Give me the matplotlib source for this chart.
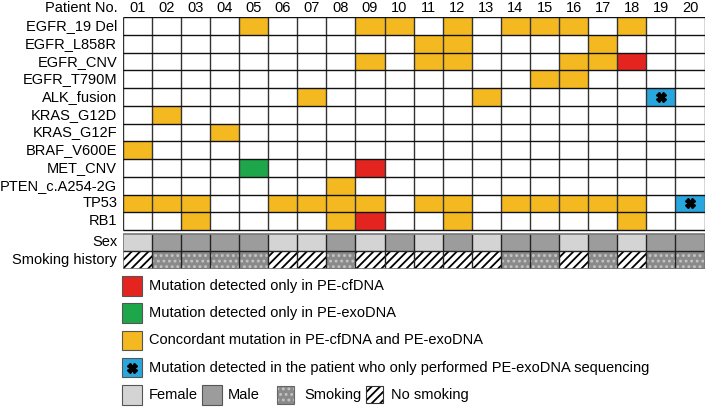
import matplotlib.pyplot as plt
from matplotlib.patches import Rectangle

plt.rcParams['font.family'] = ['Liberation Sans', 'DejaVu Sans']
plt.rcParams['hatch.linewidth'] = 1.3

# data
patients = ['01', '02', '03', '04', '05', '06', '07', '08', '09', '10',
            '11', '12', '13', '14', '15', '16', '17', '18', '19', '20']
genes = ['EGFR_19 Del', 'EGFR_L858R', 'EGFR_CNV', 'EGFR_T790M', 'ALK_fusion',
         'KRAS_G12D', 'KRAS_G12F', 'BRAF_V600E', 'MET_CNV', 'PTEN_c.A254-2G',
         'TP53', 'RB1']
# R = only PE-cfDNA, G = only PE-exoDNA, Y = concordant, B = exoDNA-only patient
mutations = ['....Y...YY.Y.YYY.Y..',
             '..........YY....Y...',
             '........Y.YY...YYR..',
             '..............YY....',
             '......Y.....Y.....B.',
             '.Y..................',
             '...Y................',
             'Y...................',
             '....G...R...........',
             '.......Y............',
             'YYY..YYYY.YY.YYYYY.B',
             '..Y....YR..Y.....Y..']
sex = 'FMMMMFFMFMFMFMMFMFMM'
smoking = 'NSSSSNNSNNNNNSSNSNSS'

colors = {'R': '#e4241f', 'G': '#1ea64b', 'Y': '#f4b920', 'B': '#2aa6de'}
sex_colors = {'F': '#d4d4d4', 'M': '#9c9c9c'}
smoke_gray = '#8a8a8a'
dot_color = '#c4c4c4'
legend_items = [('R', 'Mutation detected only in PE-cfDNA'),
                ('G', 'Mutation detected only in PE-exoDNA'),
                ('Y', 'Concordant mutation in PE-cfDNA and PE-exoDNA'),
                ('B', 'Mutation detected in the patient who only performed PE-exoDNA sequencing')]

W, H = 708, 408
fig = plt.figure(figsize=(W / 100, H / 100), dpi=100)

# legend canvas in pixel units
lax = fig.add_axes([0, 0, 1, 1])
lax.set_xlim(0, W)
lax.set_ylim(H, 0)
lax.axis('off')

ax = fig.add_axes([122.7 / W, 1 - 269 / H, 581.8 / W, 251.7 / H])
n_col = len(patients)
n_row = len(genes)
gap = 0.2
y_sex = n_row + gap
y_smk = y_sex + 1
ax.set_xlim(0, n_col)
ax.set_ylim(y_smk + 1, 0)
ax.axis('off')

# mutation cells
for i, row in enumerate(mutations):
    for j, c in enumerate(row):
        if c == '.':
            continue
        ax.add_patch(Rectangle((j, i), 1, 1, facecolor=colors[c], edgecolor='none', zorder=1))
        if c == 'B':
            ax.plot(j + 0.5, i + 0.5, marker='X', color='black', ms=7, mec='black', zorder=4)

# sex / smoking rows
for j in range(n_col):
    ax.add_patch(Rectangle((j, y_sex), 1, 1, facecolor=sex_colors[sex[j]], edgecolor='none', zorder=1))
    if smoking[j] == 'S':
        ax.add_patch(Rectangle((j, y_smk), 1, 1, facecolor=smoke_gray, edgecolor=dot_color,
                               hatch='...', lw=0, zorder=1))
    else:
        ax.add_patch(Rectangle((j, y_smk), 1, 1, facecolor='white', edgecolor='black',
                               hatch='////', lw=0, zorder=1))

# grid lines
ax.vlines(range(n_col + 1), 0, n_row, colors='#333333', lw=1.0, zorder=2)
ax.hlines(range(n_row + 1), 0, n_col, colors='#111111', lw=1.0, zorder=2)
ax.vlines(range(1, n_col), y_sex, y_smk + 1, colors='#222222', lw=1.0, zorder=2)
ax.hlines([y_smk], 0, n_col, colors='#222222', lw=1.0, zorder=2)
ax.add_patch(Rectangle((0, y_sex), n_col, 2, facecolor='none', edgecolor='#777777', lw=1.2, zorder=3))

# labels
fs = 10.5
for i, g in enumerate(genes):
    ax.text(-0.19, i + 0.5, g, ha='right', va='center', fontsize=fs)
ax.text(-0.19, y_sex + 0.5, 'Sex', ha='right', va='center', fontsize=fs)
ax.text(-0.19, y_smk + 0.5, 'Smoking history', ha='right', va='center', fontsize=fs)
ax.text(-0.19, -0.5, 'Patient No.', ha='right', va='center', fontsize=fs)
for j, p in enumerate(patients):
    ax.text(j + 0.5, -0.5, p, ha='center', va='center', fontsize=fs)

# legend
y0, dy = 286, 27.2
for k, (c, label) in enumerate(legend_items):
    yc = y0 + k * dy
    lax.add_patch(Rectangle((121.7, yc - 9.8), 20, 19.5, facecolor=colors[c], edgecolor='#555555', lw=0.8))
    if c == 'B':
        lax.plot(131.7, yc, marker='X', color='black', ms=7)
    lax.text(149, yc, label, ha='left', va='center', fontsize=fs)

yc = y0 + 4 * dy
lax.add_patch(Rectangle((121.7, yc - 9.8), 20, 19.5, facecolor=sex_colors['F'], edgecolor='#555555', lw=0.8))
lax.text(149, yc, 'Female', ha='left', va='center', fontsize=fs)
lax.add_patch(Rectangle((201.7, yc - 9.8), 20, 19.5, facecolor=sex_colors['M'], edgecolor='#555555', lw=0.8))
lax.text(228, yc, 'Male', ha='left', va='center', fontsize=fs)
lax.add_patch(Rectangle((276.7, yc - 9), 17, 18, facecolor=smoke_gray, edgecolor=dot_color, hatch='...', lw=0))
lax.add_patch(Rectangle((276.7, yc - 9), 17, 18, facecolor='none', edgecolor='#666666', lw=0.8))
lax.text(304, yc, 'Smoking', ha='left', va='center', fontsize=fs)
lax.add_patch(Rectangle((366, yc - 8.5), 17, 17, facecolor='white', edgecolor='black', hatch='////', lw=0))
lax.add_patch(Rectangle((366, yc - 8.5), 17, 17, facecolor='none', edgecolor='#333333', lw=0.8))
lax.text(391, yc, 'No smoking', ha='left', va='center', fontsize=fs)

fig.savefig('out.png', dpi=100)
